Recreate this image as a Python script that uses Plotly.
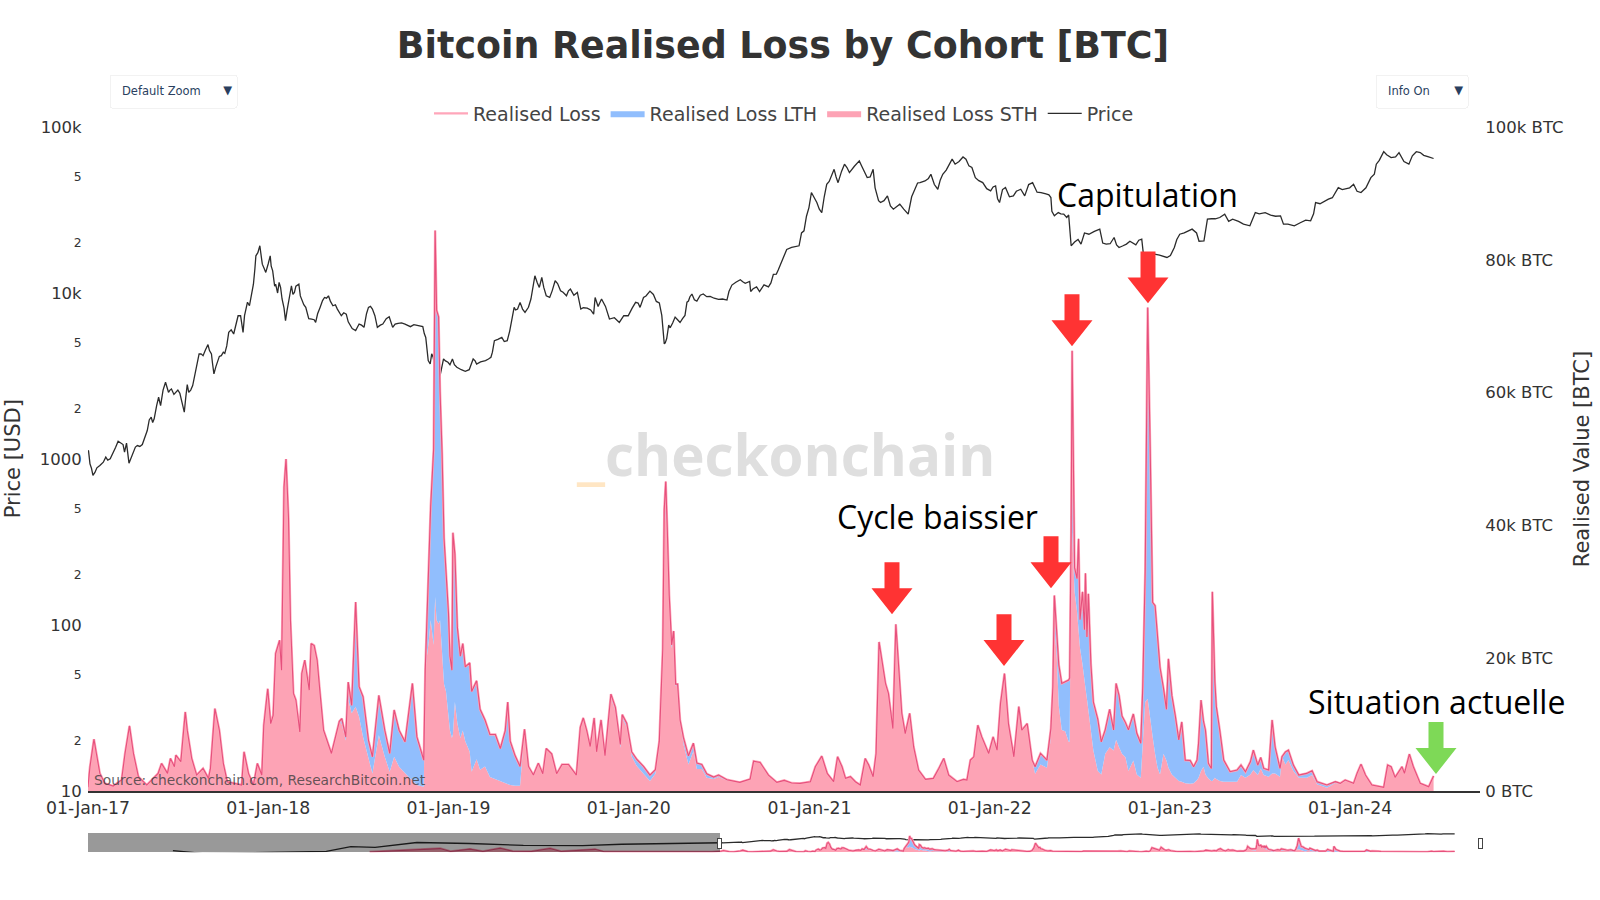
import pandas as pd
import plotly.graph_objects as go

START = pd.Timestamp("2017-01-01")

# days since START, history before 2017 only shows up in the range slider
hist_days = [-1300, -1039, -1000, -928, -880, -816, -770, -700, -631, -590, -464, -430, -30]
hist_loss = [0, 18000, 3000, 15000, 3000, 20000, 4000, 3000, 18000, 3000, 14000, 1000, 500]

# 2017 to mid 2018, STH carries all of the loss
early_days = [0, 4, 12, 17, 24, 34, 51, 68, 75, 84,
              92, 102, 119, 142, 149, 161, 167, 175, 178, 188,
              197, 201, 210, 220, 233, 244, 248, 257, 266, 274,
              282, 311, 316, 325, 335, 343, 352, 356, 364, 370,
              375, 380, 388, 392, 397, 401, 406, 410, 416, 421,
              429, 433, 439, 448, 452, 458, 464, 470, 477, 493,
              502, 509]
early_loss = [650, 3650, 7800, 5650, 2650, 1150, 750, 1650, 5650, 9800,
              5650, 2150, 900, 2650, 4150, 2650, 4900, 3650, 5400, 4400,
              11900, 9150, 4900, 2400, 3400, 1900, 3400, 12400, 9150, 4150,
              1400, 900, 5900, 2650, 900, 4150, 2400, 9900, 15400, 10150,
              11400, 20700, 22700, 18200, 45750, 50000, 41200, 25700, 14700, 13700,
              8900, 17700, 19700, 15200, 22200, 21900, 19700, 14700, 9150, 5650,
              8650, 10500]

later_days = [514, 522, 527, 534, 542, 549, 557, 568, 576, 589,
              601, 611, 620, 630, 642, 649, 657, 666, 680, 683,
              690, 694, 700, 703, 706, 710, 713, 717, 721, 725,
              730, 733, 737, 739, 743, 748, 754, 759, 764, 773,
              777, 787, 794, 804, 814, 825, 835, 845, 850, 855,
              865, 875, 884, 892, 902, 912, 921, 928, 939, 949,
              960, 973, 989, 997, 1003, 1010, 1017, 1025, 1030, 1039,
              1047, 1059, 1068, 1078, 1082, 1091, 1101, 1111, 1125, 1138,
              1149, 1157, 1164, 1167, 1170, 1173, 1177, 1182, 1186, 1190,
              1194, 1199, 1206, 1216, 1226, 1233, 1243, 1253, 1267, 1277,
              1294, 1320, 1341, 1348, 1361, 1378, 1395, 1410, 1425, 1442,
              1463, 1473, 1486, 1497, 1510, 1518, 1527, 1534, 1544, 1554,
              1564, 1574, 1581, 1590, 1596, 1602, 1608, 1615, 1621, 1630,
              1636, 1642, 1648, 1655, 1664, 1672, 1682, 1696, 1712, 1723,
              1733, 1743, 1760, 1773, 1780, 1787, 1794, 1802, 1810, 1824,
              1833, 1841, 1848, 1856, 1864, 1875, 1885, 1891, 1902, 1912,
              1918, 1929, 1942, 1950, 1954, 1957, 1962, 1966, 1972, 1979,
              1986, 1988, 1991, 1993, 1995, 1998, 2003, 2006, 2009, 2014,
              2018, 2020, 2023, 2026, 2031, 2036, 2045, 2052, 2060, 2069,
              2077, 2082, 2088, 2094, 2101, 2107, 2117, 2124, 2132, 2136,
              2141, 2146, 2151, 2156, 2161, 2166, 2171, 2178, 2184, 2188,
              2195, 2202, 2209, 2215, 2222, 2232, 2239, 2246, 2249, 2254,
              2259, 2263, 2269, 2275, 2277, 2282, 2285, 2292, 2300, 2313,
              2327, 2335, 2344, 2354, 2360, 2369, 2375, 2381, 2391, 2398,
              2404, 2414, 2418, 2425, 2431, 2441, 2452, 2468, 2479, 2489,
              2509, 2526, 2536, 2546, 2563, 2570, 2578, 2587, 2600, 2624,
              2632, 2639, 2647, 2661, 2666, 2676, 2684, 2698, 2715, 2725]
later_loss = [10900, 8150, 16400, 12900, 28450, 15700, 14200, 7650, 5150, 14400,
              9150, 5650, 12200, 9150, 7400, 11400, 16200, 8150, 4650, 18200,
              32200, 42900, 51500, 84400, 72400, 71400, 60100, 51000, 38100, 32700,
              26800, 20300, 18200, 38900, 35700, 24600, 20300, 22200, 18700, 19300,
              15000, 16600, 12300, 10700, 8500, 8500, 6400, 9100, 13400, 7500,
              5300, 3700, 9300, 3700, 2400, 4200, 2600, 6400, 5600, 2600,
              4000, 4000, 2400, 9600, 11000, 9100, 6700, 11000, 5900, 10700,
              5300, 14600, 12600, 7000, 11500, 10200, 5900, 4800, 3700, 2400,
              3200, 7500, 21400, 42400, 46600, 39700, 29500, 22000, 24100, 16100,
              16100, 10700, 8000, 5300, 7200, 4200, 4000, 2600, 2100, 2400,
              1700, 1300, 1800, 4500, 4300, 2400, 1300, 1600, 1200, 1150,
              1400, 3650, 5250, 2650, 1400, 5150, 3650, 1900, 2150, 1400,
              900, 4900, 3900, 2150, 5650, 22450, 19700, 16200, 14700, 9400,
              25100, 18200, 11700, 8650, 11700, 6650, 3150, 1750, 1900, 3400,
              4900, 2400, 1400, 1750, 1650, 4650, 5150, 9900, 8150, 5650,
              8150, 6150, 13200, 17700, 10150, 5150, 12700, 9150, 10150, 4650,
              3650, 5650, 4650, 9400, 15700, 29450, 22700, 19000, 16200, 16500,
              16700, 17000, 38800, 66300, 51800, 33600, 32000, 38000, 25800, 30000,
              24300, 32800, 23200, 29700, 19100, 13400, 10800, 7400, 9200, 12300,
              9200, 16200, 14400, 11300, 10300, 9200, 11600, 8700, 7200, 15500,
              33100, 72800, 51800, 28400, 27900, 22700, 18600, 15500, 12300, 19900,
              14400, 11300, 7700, 10400, 4650, 4600, 3650, 4650, 7150, 13700,
              10500, 9150, 4150, 3400, 30000, 16500, 12700, 9150, 4650, 2900,
              3150, 3900, 2900, 4400, 6150, 3900, 5050, 3400, 3150, 10700,
              6650, 3400, 5150, 5900, 6150, 3900, 2400, 2650, 3050, 1400,
              900, 1400, 1150, 1650, 1150, 2650, 4050, 2400, 900, 550,
              3900, 3650, 2050, 3650, 2650, 5550, 3650, 1150, 650, 2250]
later_sth = [10000, 7600, 13800, 11700, 12700, 11200, 8150, 5150, 2650, 8400,
             5150, 2900, 5150, 3650, 2650, 2150, 1650, 900, 650, 18200,
             22500, 25700, 22000, 29200, 25700, 25200, 25700, 21400, 16100, 15000,
             10700, 9100, 8000, 8500, 13400, 10200, 8000, 9100, 7500, 5900,
             2900, 4800, 3200, 3700, 2100, 1800, 1500, 1200, 1000, 900,
             800, 800, 9300, 3700, 2400, 4200, 2600, 6400, 5600, 2600,
             4000, 4000, 2400, 9600, 11000, 9100, 6700, 11000, 5900, 10700,
             5300, 14000, 12000, 6500, 11000, 9600, 5200, 3800, 2600, 1500,
             2600, 7500, 21400, 39000, 42000, 38000, 29000, 21500, 23500, 15800,
             15800, 10300, 7000, 4000, 6000, 3300, 3300, 2000, 1800, 2100,
             1600, 1300, 1800, 4500, 4300, 2400, 1300, 1600, 1200, 1150,
             1400, 3650, 5250, 2650, 1400, 5150, 3650, 1900, 2150, 1400,
             900, 4900, 3900, 2150, 5650, 22450, 19700, 16200, 14700, 9400,
             25100, 18200, 11700, 8650, 11700, 6650, 3150, 1750, 1900, 3400,
             4900, 2400, 1400, 1750, 1650, 4650, 5150, 9900, 8150, 5650,
             8150, 6150, 13200, 17700, 10150, 5150, 12700, 9150, 10150, 4650,
             2600, 4000, 3500, 8000, 15000, 25000, 20000, 12850, 9200, 9000,
             7400, 7400, 38800, 38800, 36000, 30000, 27000, 23700, 21500, 19100,
             16000, 15500, 13900, 12000, 9200, 6100, 3000, 2500, 5600, 6600,
             6100, 7700, 6600, 5600, 5100, 3000, 4600, 2500, 2000, 7700,
             13400, 13900, 10800, 8200, 5600, 3500, 2500, 5600, 4600, 3500,
             2500, 2000, 1500, 1400, 1150, 1100, 1150, 1650, 2000, 3000,
             3650, 2500, 1900, 1500, 1500, 2000, 1800, 1500, 1400, 1400,
             1400, 2400, 2000, 2500, 3150, 2400, 3400, 2400, 2150, 2650,
             2650, 2150, 5150, 4000, 4650, 3000, 2000, 2000, 2400, 1000,
             500, 1200, 1000, 1500, 1150, 2650, 4050, 2400, 900, 550,
             3900, 3650, 2050, 3650, 2650, 5550, 3650, 1150, 650, 2250]

hist_price_days = [-2030, -1920, -1827, -1600, -1461, -1370, -1280, -1125, -930, -730, -510, -365, -210, -30]
hist_price = [20, 5, 6, 12, 13, 140, 90, 1000, 620, 250, 230, 430, 650, 950]

price_days = [1, 4, 10, 18, 31, 36, 45, 56, 61, 71,
              74, 78, 83, 92, 100, 110, 120, 128, 134, 143,
              147, 157, 163, 169, 179, 186, 195, 201, 204, 212,
              219, 225, 233, 243, 250, 255, 262, 270, 277, 285,
              295, 304, 309, 314, 320, 327, 335, 340, 348, 353,
              360, 369, 374, 380, 387, 393, 400, 405, 412, 418,
              427, 432, 441, 453, 461, 470, 479, 487, 496, 505,
              513, 523, 530, 542, 549, 559, 568, 576, 586, 597,
              610, 617, 628, 642, 653, 668, 678, 684, 689, 693,
              699, 704, 713, 720, 729, 738, 747, 764, 780, 787,
              805, 816, 823, 838, 849, 860, 863, 870, 875, 885,
              897, 905, 914, 919, 928, 935, 946, 957, 969, 977,
              991, 998, 1011, 1024, 1027, 1040, 1056, 1076, 1094, 1109,
              1118, 1125, 1138, 1157, 1162, 1167, 1172, 1179, 1189, 1199,
              1209, 1216, 1223, 1233, 1246, 1260, 1277, 1294, 1304, 1321,
              1331, 1340, 1342, 1354, 1360, 1378, 1388, 1394, 1404, 1425,
              1440, 1450, 1460, 1465, 1476, 1486, 1496, 1506, 1511, 1519,
              1532, 1542, 1562, 1578, 1590, 1598, 1605, 1619, 1631, 1644,
              1661, 1675, 1685, 1695, 1707, 1721, 1731, 1746, 1756, 1772,
              1784, 1797, 1812, 1828, 1838, 1846, 1858, 1874, 1889, 1897,
              1913, 1930, 1950, 1957, 1976, 1982, 1991, 2011, 2027, 2049,
              2062, 2078, 2088, 2103, 2134, 2137, 2160, 2185, 2200, 2211,
              2236, 2260, 2267, 2292, 2302, 2318, 2353, 2364, 2384, 2415,
              2421, 2443, 2466, 2476, 2486, 2512, 2532, 2563, 2578, 2598,
              2609, 2624, 2639, 2655, 2675, 2690, 2698, 2725]
price_usd = [1125, 935, 796, 885, 957, 1026, 1002, 1178, 1280, 1222,
             1099, 1245, 944, 1125, 1205, 1222, 1484, 1785, 1745, 2355,
             2098, 2898, 2523, 2643, 2523, 2489, 1914, 2805, 2523, 2767,
             3407, 4292, 4195, 4885, 4292, 3254, 3825, 4195, 4330, 5794,
             5662, 7295, 7295, 5794, 8000, 8380, 11300, 16750, 19250, 14920,
             13300, 16750, 13600, 11300, 11580, 9200, 6810, 8380, 11060, 10080,
             11300, 9200, 8190, 6970, 6650, 8190, 9400, 9620, 8380, 8000,
             7295, 7464, 6500, 5930, 6500, 6210, 8190, 8000, 6210, 6500,
             7200, 6210, 6560, 6500, 6270, 6350, 6270, 5400, 3915, 3735,
             4100, 3407, 3180, 4005, 3825, 4005, 3570, 3375, 4005, 3735,
             3915, 4100, 5160, 5400, 5160, 7295, 8190, 8000, 8780, 7640,
             9200, 12700, 10800, 12400, 9620, 9400, 11850, 10320, 9620, 10560,
             10080, 8000, 8110, 7464, 9400, 9200, 6970, 6650, 7295, 8780,
             8190, 9400, 10260, 8720, 7330, 4940, 5320, 6170, 7160, 6640,
             7330, 8940, 9860, 8940, 9860, 9530, 9160, 9070, 11160, 12020,
             11450, 11730, 10210, 10890, 10210, 10890, 12950, 13000, 15280, 18800,
             19240, 23700, 32700, 40280, 35080, 30500, 45200, 50700, 55600, 46200,
             59700, 53100, 62500, 49550, 55600, 39360, 35080, 38460, 31990, 34280,
             29850, 43150, 46240, 47320, 51900, 42170, 51900, 61100, 59700, 66000,
             58300, 49550, 46240, 41200, 44200, 35080, 43150, 38460, 42170, 38460,
             46240, 40280, 37590, 29160, 29850, 28500, 19240, 19700, 22600, 24250,
             19700, 21600, 18800, 19700, 21100, 17540, 17140, 16370, 18800, 22600,
             24250, 20600, 27850, 28500, 29850, 27850, 25400, 30500, 30500, 29160,
             26000, 25400, 27470, 27220, 35080, 36730, 43150, 45200, 40280, 49550,
             59700, 71100, 65460, 70100, 59700, 71000, 70100, 64600]

# second pass over the price line, the smaller wiggles between the points above
wiggle_days = [7, 14, 24, 40, 50, 66, 88, 96, 105, 115, 124, 131, 139, 152, 166, 174, 182, 190,
               198, 208, 216, 222, 229, 238, 246, 252, 259, 266, 274, 281, 290, 300, 312, 317,
               323, 331, 338, 344, 351, 357, 365, 371, 378, 384, 390, 397, 403, 409, 415, 421,
               430, 437, 447, 458, 465, 475, 483, 491, 501, 509, 518, 527, 535, 546, 554, 564,
               572, 581, 592, 604, 622, 635, 648, 660, 672, 681, 696, 708, 717, 724, 733, 742,
               756, 772, 784, 795, 811, 819, 830, 843, 854, 866, 880, 892, 901, 910, 923, 940,
               951, 962, 973, 984, 1003, 1018, 1033, 1048, 1066, 1085, 1102, 1114, 1130, 1145,
               1151, 1169, 1176, 1184, 1194, 1204, 1213, 1219, 1228, 1240, 1253, 1268, 1285, 1298,
               1312, 1326, 1347, 1369, 1383, 1398, 1415, 1430, 1445, 1455, 1470, 1481, 1491, 1501,
               1515, 1526, 1537, 1552, 1567, 1572, 1584, 1594, 1601, 1612, 1625, 1638, 1652, 1668,
               1680, 1690, 1702, 1714, 1726, 1738, 1750, 1764, 1778, 1790, 1804, 1820, 1833, 1842,
               1852, 1866, 1880, 1893, 1905, 1922, 1940, 1946, 1952, 1965, 1970, 1986, 1998, 2005,
               2018, 2038, 2055, 2070, 2083, 2095, 2110, 2122, 2128, 2141, 2152, 2170, 2192, 2205,
               2220, 2245, 2250, 2275, 2283, 2310, 2330, 2340, 2372, 2395, 2405, 2430, 2455, 2482,
               2495, 2520, 2540, 2555, 2570, 2588, 2605, 2615, 2630, 2648, 2665, 2682, 2705, 2715]
wiggle_usd = [880, 830, 915, 985, 1070, 1250, 1030, 1180, 1190, 1350, 1720, 1660, 2100, 2600, 2600, 2450, 2600, 2250,
              2350, 2600, 3200, 3950, 4300, 4550, 4500, 3800, 3600, 4150, 4400, 4800, 6000, 6700, 6200, 7300,
              8800, 10000, 14000, 17500, 16500, 14000, 15000, 14500, 11000, 10000, 10800, 8100, 7800, 10200, 9800, 11000,
              9600, 8500, 7000, 6900, 7500, 9000, 9300, 8900, 8500, 7600, 7600, 6700, 6100, 6300, 6400, 7500,
              8300, 7300, 6400, 7000, 6500, 6600, 6400, 6450, 6300, 5700, 4300, 3800, 3600, 3900, 3700, 3700,
              3450, 3450, 3900, 3850, 4000, 4400, 5250, 5100, 5900, 7900, 8000, 8200, 10800, 11500, 10800, 10300,
              11400, 10100, 10300, 9700, 8150, 7900, 8300, 8300, 7100, 7300, 8100, 8700, 9600, 9800,
              8900, 5000, 6400, 6600, 6900, 7000, 8800, 9500, 9100, 9700, 9500, 9300, 9200, 10200,
              11600, 11700, 10600, 11200, 11500, 13800, 18300, 19000, 23000, 29000, 38000, 32000, 38000, 47000,
              50000, 54000, 57000, 58000, 58000, 54000, 50000, 43000, 36000, 36000, 33500, 33000, 32000, 38000,
              46000, 47000, 49000, 45000, 48000, 55000, 64000, 62000, 64000, 57000, 47500, 42500, 43500, 37000,
              42000, 38000, 41000, 40000, 45000, 40500, 39500, 39000, 31000, 30500, 30000, 29500, 20300, 21000,
              23000, 23500, 20000, 19800, 19500, 19200, 20500, 19500, 20800, 16800, 16700, 16900, 16800, 21000,
              23000, 23000, 20500, 28000, 28000, 27000, 27000, 26000, 30000, 29500, 29000, 26000, 26500, 30000,
              34500, 37500, 42000, 43000, 41000, 43000, 52000, 63000, 68000, 66000, 62000, 67000, 67500, 66000]

arrow_red = "#ff3333"
arrow_green = "#7ed957"
# arrow tips in page pixels
red_tips = [(892, 614), (1004, 666), (1051, 588), (1072, 346), (1148, 303)]
green_tips = [(1436, 774)]

# plot box in page pixels, body margin is removed at the end so the figure starts at 0,0
PLOT_L, PLOT_R, PLOT_T, PLOT_B = 88, 1480, 126.5, 791


def px_x(x):
    return (x - PLOT_L) / (PLOT_R - PLOT_L)


def px_y(y):
    return (PLOT_B - y) / (PLOT_B - PLOT_T)


def arrow(tip, color):
    x, y = tip
    pts = [(x - 7.5, y - 52), (x + 7.5, y - 52), (x + 7.5, y - 26), (x + 20.5, y - 26),
           (x, y), (x - 20.5, y - 26), (x - 7.5, y - 26)]
    path = "M " + " L ".join(f"{px_x(a):.5f} {px_y(b):.5f}" for a, b in pts) + " Z"
    return dict(type="path", xref="paper", yref="paper", path=path,
                fillcolor=color, line=dict(width=0), layer="above")


def note(x, y, text, size, color="#000000", family="Open Sans", weight=400, xanchor="center"):
    return dict(x=px_x(x), y=px_y(y), xref="paper", yref="paper", text=text, showarrow=False,
                xanchor=xanchor, yanchor="middle",
                font=dict(family=family, size=size, color=color, weight=weight))


loss_x = START + pd.to_timedelta(hist_days + early_days + later_days, unit="D")
loss_total = hist_loss + early_loss + later_loss
loss_sth = hist_loss + early_loss + later_sth
loss_lth = [t - s for t, s in zip(loss_total, loss_sth)]

price = pd.DataFrame({"day": hist_price_days + price_days + wiggle_days,
                      "usd": hist_price + price_usd + wiggle_usd}).sort_values("day")
price_x = START + pd.to_timedelta(price["day"], unit="D")

fig = go.Figure()
fig.add_trace(go.Scatter(x=loss_x, y=loss_sth, name="Realised Loss STH", yaxis="y2", mode="lines",
                         line=dict(width=0, color="#fda3b5"), fillcolor="#fda3b5",
                         stackgroup="cohort", legendrank=3))
fig.add_trace(go.Scatter(x=loss_x, y=loss_lth, name="Realised Loss LTH", yaxis="y2", mode="lines",
                         line=dict(width=0, color="#91befd"), fillcolor="#91befd",
                         stackgroup="cohort", legendrank=2))
# pale halo with the darker core on top
fig.add_trace(go.Scatter(x=loss_x, y=loss_total, name="Realised Loss", yaxis="y2", mode="lines",
                         line=dict(width=2.4, color="#ffa6ba"), legendrank=1))
fig.add_trace(go.Scatter(x=loss_x, y=loss_total, yaxis="y2", mode="lines", showlegend=False,
                         line=dict(width=1.1, color="#e6507c")))
fig.add_trace(go.Scatter(x=price_x, y=price["usd"], name="Price", mode="lines",
                         line=dict(width=1.3, color="#2b2b2b"), legendrank=4))

tick_font = dict(family="DejaVu Sans", size=16.5, color="#333333")
title_font = dict(family="DejaVu Sans", size=21, color="#333333")
no_tick = "rgba(0,0,0,0)"
fig.update_layout(
    width=1600, height=900,
    margin=dict(l=PLOT_L, r=1600 - PLOT_R, t=PLOT_T, b=900 - PLOT_B, autoexpand=False),
    paper_bgcolor="white", plot_bgcolor="white",
    title=dict(text="<b>Bitcoin Realised Loss by Cohort [BTC]</b>", x=783 / 1600,
               y=1 - 45 / 900, xanchor="center", yanchor="middle",
               font=dict(family="DejaVu Sans", size=36.4, color="#333333")),
    legend=dict(orientation="h", x=px_x(784), y=px_y(113), xanchor="center", yanchor="middle",
                traceorder="normal", itemwidth=34,
                font=dict(family="DejaVu Sans", size=19, color="#444444"), bgcolor="rgba(0,0,0,0)"),
    xaxis=dict(type="date", range=["2017-01-01", "2024-09-20"], tick0="2017-01-01", dtick="M12",
               tickformat="%d-%b-%y", tickfont=dict(tick_font, size=17.3), showgrid=False,
               ticks="outside", ticklen=3, tickcolor=no_tick, ticklabelstandoff=-3,
               showline=True, linecolor="#333333", linewidth=2, zeroline=False,
               rangeslider=dict(visible=True, range=["2010-08-01", "2024-09-20"], thickness=0.029,
                                bgcolor="white", borderwidth=0)),
    yaxis=dict(type="log", range=[1, 5], dtick="D2", tickfont=tick_font, showgrid=False,
               ticks="outside", ticklen=2, tickcolor=no_tick, zeroline=False),
    yaxis2=dict(overlaying="y", side="right", range=[0, 100000], dtick=20000, tickformat="~s",
                ticksuffix=" BTC", tickfont=tick_font, showgrid=False, ticks="outside", ticklen=1,
                tickcolor=no_tick, zeroline=False,
                title=dict(text="Realised Value [BTC]", standoff=11, font=title_font)),
    updatemenus=[
        dict(type="dropdown", x=px_x(109), y=px_y(73), xanchor="left", yanchor="top",
             pad=dict(l=0, r=0, t=0, b=0), bgcolor="white", bordercolor="#f2f2f2", borderwidth=1,
             font=dict(family="DejaVu Sans", size=11.5, color="#2a3f5f"),
             buttons=[dict(label="Default Zoom", method="skip"), dict(label="All Time Range", method="skip")]),
        dict(type="dropdown", x=px_x(1375), y=px_y(73), xanchor="left", yanchor="top",
             pad=dict(l=0, r=0, t=0, b=0), bgcolor="white", bordercolor="#f2f2f2", borderwidth=1,
             font=dict(family="DejaVu Sans", size=11.5, color="#2a3f5f"),
             buttons=[dict(label="Info On", method="skip"), dict(label="Info Hide", method="skip")]),
    ],
    shapes=[arrow(t, arrow_red) for t in red_tips] + [arrow(t, arrow_green) for t in green_tips],
    annotations=[
        note(785, 449, "<span style='color:#ffe6c4;font-size:68px'>_</span>checkonchain", 56.5,
             "#dfdfdf", weight=700),
        note(92, 780, "Source: checkonchain.com, ResearchBitcoin.net", 13.8,
             "rgba(60,60,60,0.8)", family="DejaVu Sans", xanchor="left"),
        note(1147, 194, "Capitulation", 32),
        note(937, 516, "Cycle baissier", 32),
        note(1436, 701, "Situation actuelle", 32),
        # left axis title as a note, the standoff did not move it
        dict(note(13, 459, "Price [USD]", 21, "#333333", family="DejaVu Sans"), textangle=-90),
    ],
)

fig.write_html("out.html", config={"displayModeBar": False},
               post_script="document.body.style.margin = '0';")
